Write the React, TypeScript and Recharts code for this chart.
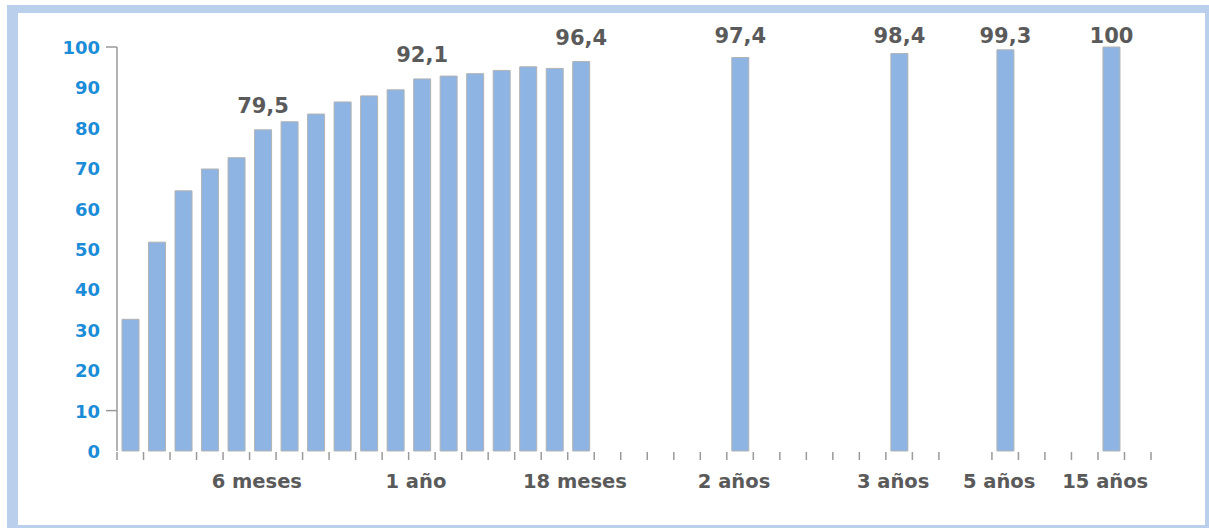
import { BarChart, Bar, XAxis, YAxis, LabelList } from "recharts";

// porcentajes mensuales (1 a 18 meses)
const monthlyValues = [
  32.6, 51.7, 64.4, 69.8, 72.6, 79.5, 81.5, 83.4, 86.4, 87.9, 89.4, 92.1, 92.8,
  93.4, 94.2, 95.1, 94.7, 96.4,
];
const monthlyLabels = [
  "", "", "", "", "", "6 meses", "", "", "", "", "", "1 año", "", "", "", "", "", "18 meses",
];

// edades posteriores, con su hueco en el eje
const laterLabels = ["2 años", "3 años", "5 años", "15 años"];
const laterValues = [97.4, 98.4, 99.3, 100];
const laterSlots = [23, 29, 33, 37];

const slotCount = 39;
const labelledSlots = [5, 11, 17, 23, 29, 33, 37];
const skippedTick = 32;

const yTicks = [0, 10, 20, 30, 40, 50, 60, 70, 80, 90, 100];
const yMarked = [10, 100];

const W = 1209;
const H = 528;
const M = { top: 47, right: 58, bottom: 0, left: 0 };
const Y_W = 117;
const X_H = 77;
const SLOT_W = (W - M.left - M.right - Y_W) / slotCount;

const FONT = "'DejaVu Sans', sans-serif";
const GRAY = "#5a5a5a";
const BLUE = "#1a8cd8";
const TICK = "#9a9a9a";

type Row = { slot: number; label: string; value: number | null; note: string | null };

const rows: Row[] = Array.from({ length: slotCount }, (_, i) => ({
  slot: i,
  label: "",
  value: null,
  note: null,
}));
monthlyValues.forEach((v, i) => {
  rows[i].value = v;
  rows[i].label = monthlyLabels[i];
});
laterValues.forEach((v, i) => {
  rows[laterSlots[i]].value = v;
  rows[laterSlots[i]].label = laterLabels[i];
});
labelledSlots.forEach((s) => {
  rows[s].note = String(rows[s].value).replace(".", ",");
});

const XTick = (props: any) => {
  const { x, y, payload } = props;
  const i = Number(payload.value);
  const half = SLOT_W / 2;
  const row = rows[i];
  return (
    <g>
      {i !== skippedTick && (
        <line x1={x - half} x2={x - half} y1={y + 1} y2={y + 9} stroke={TICK} strokeWidth={1.5} />
      )}
      {i === slotCount - 1 && (
        <line x1={x + half} x2={x + half} y1={y + 1} y2={y + 9} stroke={TICK} strokeWidth={1.5} />
      )}
      {row && row.label && (
        <text
          x={x - 6}
          y={y + 37}
          textAnchor="middle"
          fontFamily={FONT}
          fontWeight="bold"
          fontSize={19.5}
          fill={GRAY}
        >
          {row.label}
        </text>
      )}
    </g>
  );
};

const YTick = (props: any) => {
  const { x, y, payload } = props;
  const v = Number(payload.value);
  return (
    <g>
      {yMarked.includes(v) && (
        <line x1={x - 11} x2={x} y1={y} y2={y} stroke={TICK} strokeWidth={1.5} />
      )}
      <text
        x={x - 17}
        y={y + 7}
        textAnchor="end"
        fontFamily={FONT}
        fontWeight="bold"
        fontSize={18}
        fill={BLUE}
      >
        {v}
      </text>
    </g>
  );
};

const ValueLabel = (props: any) => {
  const { x, y, width, value } = props;
  if (value == null) return null;
  const cy = Math.max(Number(y) - 24, 35.5);
  return (
    <text
      x={Number(x) + Number(width) / 2}
      y={cy + 7.5}
      textAnchor="middle"
      fontFamily={FONT}
      fontWeight="bold"
      fontSize={21}
      fill={GRAY}
    >
      {value}
    </text>
  );
};

export default function App() {
  return (
    <div
      style={{
        position: "fixed",
        left: 0,
        top: 0,
        width: W,
        height: H,
        background: "#fff",
        overflow: "hidden",
      }}
    >
      <div
        style={{
          position: "absolute",
          left: 7,
          top: 5,
          width: W - 7,
          height: H - 5,
          boxSizing: "border-box",
          borderStyle: "solid",
          borderColor: "#b9cfec",
          borderWidth: "8px 4px 3px 11px",
        }}
      />
      <div style={{ position: "absolute", left: 0, top: 0 }}>
        <BarChart width={W} height={H} data={rows} margin={M}>
          <XAxis
            dataKey="slot"
            type="category"
            interval={0}
            height={X_H}
            axisLine={false}
            tickLine={false}
            tickSize={0}
            tickMargin={0}
            tick={XTick}
          />
          <YAxis
            type="number"
            domain={[0, 100]}
            ticks={yTicks}
            width={Y_W}
            axisLine={{ stroke: TICK, strokeWidth: 1.5 }}
            tickLine={false}
            tickSize={0}
            tickMargin={0}
            tick={YTick}
          />
          <Bar
            dataKey="value"
            fill="#8db4e2"
            stroke="#b3b3b3"
            strokeWidth={1}
            barSize={17}
            isAnimationActive={false}
          >
            <LabelList dataKey="note" content={ValueLabel} />
          </Bar>
        </BarChart>
      </div>
    </div>
  );
}
